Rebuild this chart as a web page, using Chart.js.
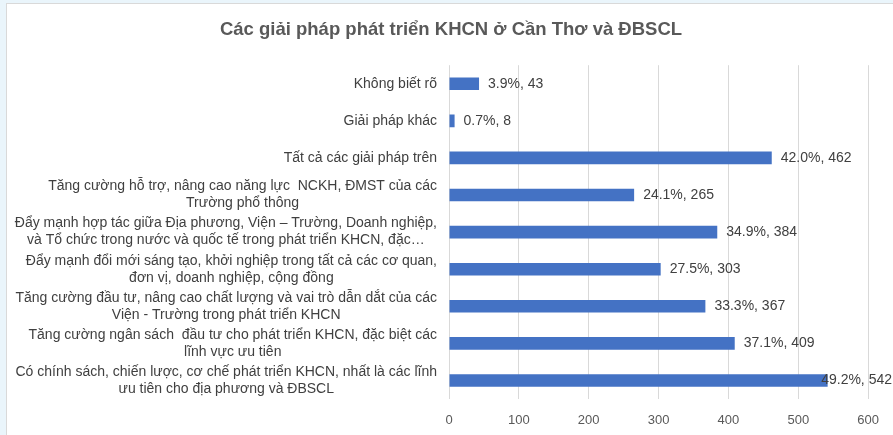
<!DOCTYPE html>
<html>
<head>
<meta charset="utf-8">
<script src="https://cdn.jsdelivr.net/npm/chart.js@4.4.1/dist/chart.umd.min.js"></script>
<style>
  html, body { margin: 0; padding: 0; background: #eaf5fb; overflow: hidden; }
  #wrap {
    position: absolute; left: 6px; top: 3px; width: 886px; height: 432px;
    background: #fff; border-left: 1px solid #d9d9d9; border-top: 1px solid #d9d9d9;
  }
</style>
</head>
<body>
<div id="wrap"><canvas id="giaiPhapChart"></canvas></div>
<script>
// Nhãn các giải pháp (từ trên xuống), mỗi dòng một phần tử
const nhanGiaiPhap = [
    ['Không biết rõ'],
    ['Giải pháp khác'],
    ['Tất cả các giải pháp trên'],
    ['Tăng cường hỗ trợ, nâng cao năng lực  NCKH, ĐMST của các', 'Trường phổ thông'],
    ['Đẩy mạnh hợp tác giữa Địa phương, Viện – Trường, Doanh nghiệp,', 'và Tổ chức trong nước và quốc tế trong phát triển KHCN, đặc…'],
    ['Đẩy mạnh đổi mới sáng tạo, khởi nghiệp trong tất cả các cơ quan,', 'đơn vị, doanh nghiệp, cộng đồng'],
    ['Tăng cường đầu tư, nâng cao chất lượng và vai trò dẫn dắt của các', 'Viện - Trường trong phát triển KHCN'],
    ['Tăng cường ngân sách  đầu tư cho phát triển KHCN, đặc biệt các', 'lĩnh vực ưu tiên'],
    ['Có chính sách, chiến lược, cơ chế phát triển KHCN, nhất là các lĩnh', 'ưu tiên cho địa phương và ĐBSCL']
];
// Số lượt chọn
const soLuot = [43, 8, 462, 265, 384, 303, 367, 409, 542];
// Tỷ lệ phần trăm
const tyLe = ['3.9%', '0.7%', '42.0%', '24.1%', '34.9%', '27.5%', '33.3%', '37.1%', '49.2%'];
// Vạch chia trục X
const vachX = [0, 100, 200, 300, 400, 500, 600];

const FONT = "'Liberation Sans', Arial, sans-serif";
Chart.defaults.font.family = FONT;

// Vẽ nhãn trục Y: khối căn phải, các dòng căn giữa (kiểu Excel)
const nhanTrucY = {
    id: 'nhanTrucY',
    afterDraw(chart) {
        const ctx = chart.ctx;
        const y = chart.scales.y;
        const right = chart.chartArea.left - 12;
        const lh = 17;
        ctx.save();
        ctx.font = '14px ' + FONT;
        ctx.fillStyle = '#404040';
        ctx.textBaseline = 'middle';
        ctx.textAlign = 'center';
        nhanGiaiPhap.forEach(function(lines, i) {
            const w = Math.max.apply(null, lines.map(function(l) { return ctx.measureText(l).width; }));
            const cx = right - w / 2;
            const cy = y.getPixelForTick(i);
            const top = cy - (lines.length - 1) * lh / 2;
            lines.forEach(function(l, j) { ctx.fillText(l, cx, top + j * lh); });
        });
        ctx.restore();
    }
};

// Nhãn giá trị ở cuối mỗi thanh
const nhanGiaTri = {
    id: 'nhanGiaTri',
    afterDatasetsDraw(chart) {
        const ctx = chart.ctx;
        const meta = chart.getDatasetMeta(0);
        ctx.save();
        ctx.font = '14px ' + FONT;
        ctx.fillStyle = '#404040';
        ctx.textBaseline = 'middle';
        ctx.textAlign = 'left';
        meta.data.forEach(function(bar, i) {
            const txt = tyLe[i] + ', ' + soLuot[i];
            const w = ctx.measureText(txt).width;
            const x = Math.min(bar.x + 9, chart.width - w - 1);
            ctx.fillText(txt, x, bar.y);
        });
        ctx.restore();
    }
};

const ctx = document.getElementById('giaiPhapChart').getContext('2d');
new Chart(ctx, {
    type: 'bar',
    data: {
        labels: nhanGiaiPhap.map(function(l) { return l.join(' '); }),
        datasets: [{
            data: soLuot,
            backgroundColor: '#4472C4',
            categoryPercentage: 1,
            barPercentage: 0.34
        }]
    },
    options: {
        indexAxis: 'y',
        responsive: true,
        maintainAspectRatio: false,
        animation: false,
        layout: { padding: { left: 26, right: 24, bottom: 0 } },
        plugins: {
            legend: { display: false },
            tooltip: { enabled: false },
            title: {
                display: true,
                text: 'Các giải pháp phát triển KHCN ở Cần Thơ và ĐBSCL',
                color: '#595959',
                font: { size: 18.5, weight: 'bold' },
                padding: { top: 15, bottom: 24 }
            }
        },
        scales: {
            x: {
                min: vachX[0],
                max: vachX[vachX.length - 1],
                afterBuildTicks(scale) { scale.ticks = vachX.map(function(v) { return { value: v }; }); },
                afterFit(scale) { scale.height = 37; },
                grid: { color: '#d9d9d9', drawTicks: false },
                border: { display: false },
                ticks: { color: '#595959', font: { size: 13 }, padding: 14 }
            },
            y: {
                grid: { display: false },
                border: { display: false },
                ticks: { display: false },
                afterFit(scale) { scale.width = 416; }
            }
        }
    },
    plugins: [nhanTrucY, nhanGiaTri]
});
</script>
</body>
</html>
